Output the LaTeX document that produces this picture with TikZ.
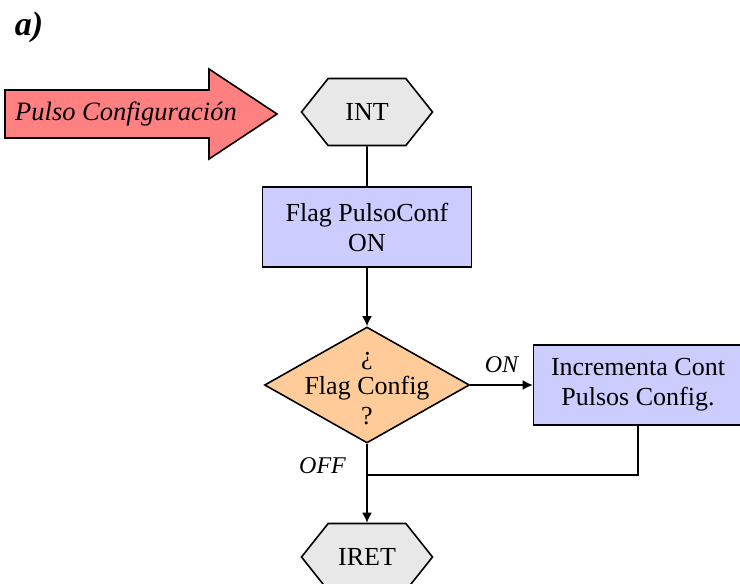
\documentclass[tikz,border=0pt]{standalone}
\usepackage{fontspec}
\setmainfont{Liberation Serif}
\usetikzlibrary{shapes.geometric,shapes.symbols,arrows.meta}

\definecolor{gris}{HTML}{E8E8E8}
\definecolor{lila}{HTML}{CCCCFF}
\definecolor{naranja}{HTML}{FFCC99}
\definecolor{rosa}{HTML}{FF8080}

\tikzset{
  texto/.style={font=\fontsize{26}{30}\selectfont, align=center},
  terminal/.style={shape=signal, signal to=west and east, signal pointer angle=103,
    draw, line width=1.6pt, fill=gris, minimum width=131pt, minimum height=67pt,
    inner sep=0pt, texto},
  proceso/.style={draw, line width=1.6pt, fill=lila, minimum width=209pt,
    minimum height=80pt, inner sep=0pt, texto},
  decision/.style={diamond, draw, line width=1.6pt, fill=naranja, inner sep=0pt,
    minimum width=205pt, minimum height=116pt},
  flecha/.style={line width=1.6pt, -{Latex[length=10pt,width=10pt]}},
  linea/.style={line width=1.6pt},
  etiqueta/.style={font=\fontsize{24}{28}\selectfont\itshape}
}

\begin{document}
\begin{tikzpicture}[x=1pt, y=-1pt]
  \useasboundingbox (0,0) rectangle (740,584);

  % Titulo
  \node[font=\fontsize{34}{40}\selectfont\bfseries\itshape] (titulo) at (29,27) {a)};

  % Flecha del pulso de entrada
  \filldraw[fill=rosa, line width=1.6pt, line join=miter]
    (5,90) -- (209,90) -- (209,69) -- (277,114) -- (209,159) -- (209,138) -- (5,138) -- cycle;
  \node[font=\fontsize{26.5}{30}\selectfont\itshape] (pulso) at (126,114) {Pulso Configuración};

  % Nodos del diagrama
  \node[terminal] (int) at (367,112) {INT};
  \node[proceso] (flag) at (367,227) {Flag PulsoConf\\ON};
  \node[decision, label={[texto, yshift=-4pt]center:¿\\Flag Config\\?}] (cfg) at (367,385) {};
  \node[proceso] (inc) at (638,385) {Incrementa Cont\\Pulsos Config.};
  \node[terminal] (iret) at (367,557) {IRET};
  \coordinate (union) at (367,475);

  % Conexiones
  \draw[linea] (int) -- (flag);
  \draw[flecha] (flag) -- (cfg);
  \draw[flecha] (cfg.east) -- (inc.west) node[midway, above=8pt, etiqueta] {ON};
  \draw[flecha] (cfg.south) -- (iret.north) node[pos=0.28, left=17pt, etiqueta] {OFF};
  \draw[linea] (inc.south) |- (union);
\end{tikzpicture}
\end{document}
